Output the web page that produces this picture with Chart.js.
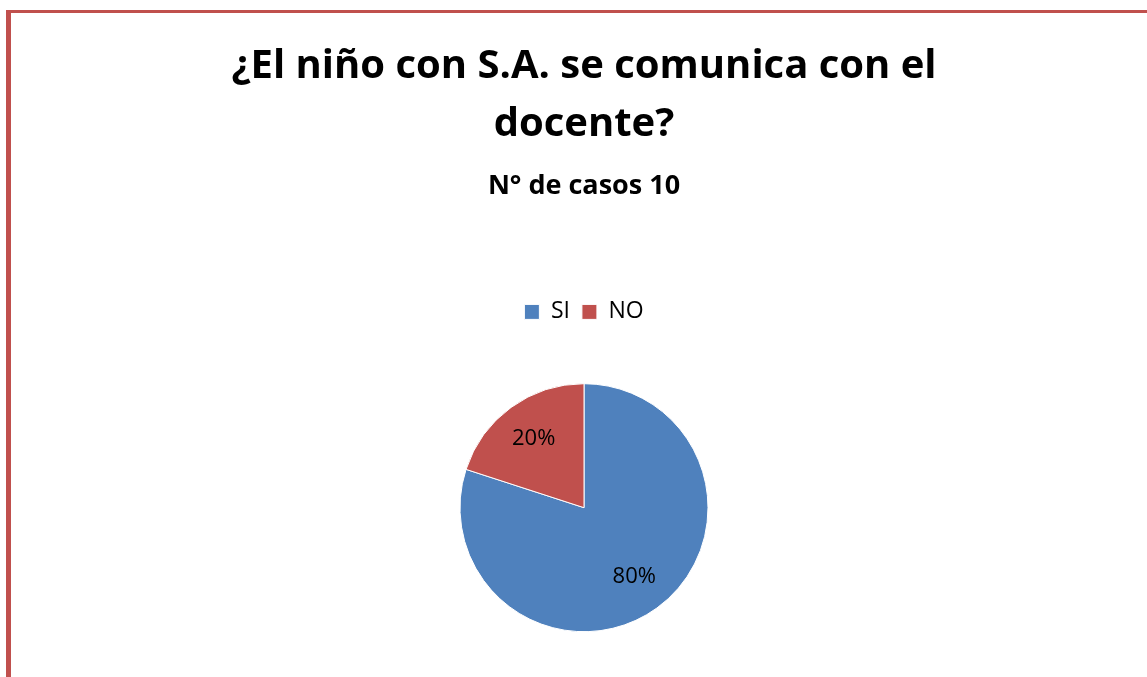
<!DOCTYPE html>
<html>
<head>
<meta charset="utf-8">
<script src="https://cdn.jsdelivr.net/npm/chart.js@4"></script>
<style>
    html, body { margin: 0; padding: 0; background: #fff; overflow: hidden; }
    body { width: 1147px; height: 677px; position: relative; }
    #frame {
        position: absolute; left: 6px; top: 10px; right: 0; bottom: 0;
        border-top: 3px solid #C0504D; border-left: 5px solid #C0504D;
    }
    #wrap { position: absolute; left: 11px; top: 13px; width: 1146px; height: 669px; }
</style>
</head>
<body>
<div id="frame"></div>
<div id="wrap"><canvas id="pie"></canvas></div>
<script>
// data
const categories = ['SI', 'NO'];
const casos = [8, 2];
const titleLines = ['¿El niño con S.A. se comunica con el', 'docente?'];
const subtitleText = 'N° de casos 10';
const sliceColors = ['#4F81BD', '#C0504D'];

// percent labels inside the slices
const pctLabels = {
    id: 'pctLabels',
    afterDatasetsDraw(chart) {
        const ctx = chart.ctx;
        const meta = chart.getDatasetMeta(0);
        const total = casos.reduce((a, b) => a + b, 0);
        ctx.save();
        ctx.font = '22px "Open Sans"';
        ctx.fillStyle = '#000';
        ctx.textAlign = 'center';
        ctx.textBaseline = 'middle';
        meta.data.forEach((arc, i) => {
            const p = arc.getProps(['x', 'y', 'startAngle', 'endAngle', 'outerRadius']);
            const mid = (p.startAngle + p.endAngle) / 2;
            const r = p.outerRadius * 0.69;
            const txt = Math.round(casos[i] / total * 100) + '%';
            ctx.fillText(txt, p.x + Math.cos(mid) * r, p.y + Math.sin(mid) * r);
        });
        ctx.restore();
    }
};

new Chart(document.getElementById('pie'), {
    type: 'pie',
    data: {
        labels: categories,
        datasets: [{
            data: casos,
            backgroundColor: sliceColors,
            borderColor: '#ffffff',
            borderWidth: 1,
            radius: 124
        }]
    },
    options: {
        responsive: true,
        maintainAspectRatio: false,
        animation: false,
        layout: { padding: { top: 25, bottom: 0 } },
        plugins: {
            title: {
                display: true,
                text: titleLines,
                color: '#000',
                font: { family: 'Open Sans', size: 40, weight: 'bold', lineHeight: 1.45 },
                padding: { top: 0, bottom: 16 }
            },
            subtitle: {
                display: true,
                text: subtitleText,
                color: '#000',
                font: { family: 'Open Sans', size: 27, weight: 'bold' },
                padding: { top: 0, bottom: 86 }
            },
            legend: {
                position: 'top',
                labels: {
                    color: '#000',
                    font: { family: 'Open Sans', size: 23 },
                    boxWidth: 15,
                    boxHeight: 15,
                    padding: 12
                }
            },
            tooltip: { enabled: false }
        }
    },
    plugins: [pctLabels]
});
</script>
</body>
</html>
